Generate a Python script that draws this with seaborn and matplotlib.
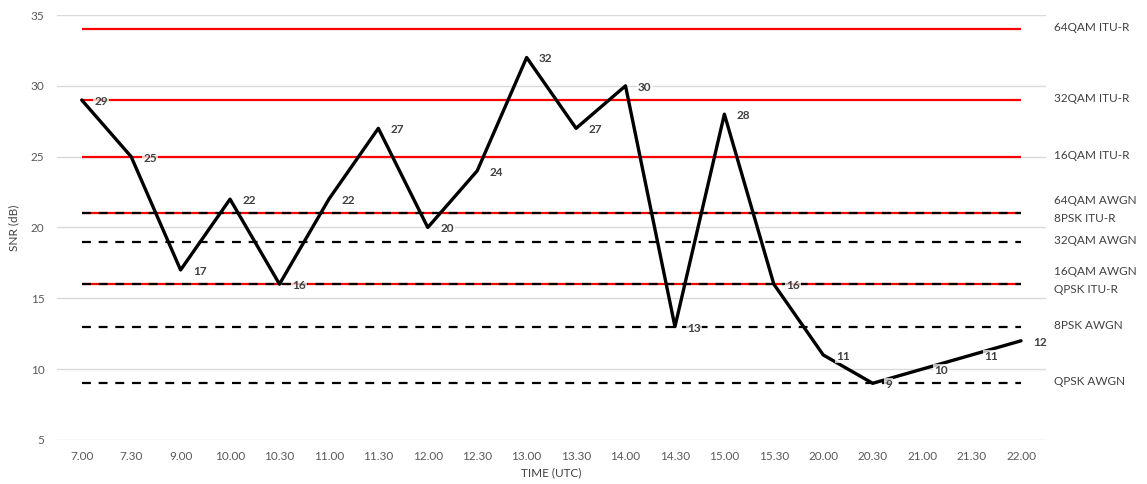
import numpy as np
import pandas as pd
import matplotlib
matplotlib.use("Agg")
import matplotlib.pyplot as plt
import seaborn as sns

# Measurement times and SNR readings
times = ["7.00", "7.30", "9.00", "10.00", "10.30", "11.00", "11.30", "12.00", "12.30",
         "13.00", "13.30", "14.00", "14.30", "15.00", "15.30", "20.00", "20.30",
         "21.00", "21.30", "22.00"]
snr = [29, 25, 17, 22, 16, 22, 27, 20, 24, 32, 27, 30, 13, 28, 16, 11, 9, 10, 11, 12]

# Modulation thresholds (dB)
itu_names = ["64QAM ITU-R", "32QAM ITU-R", "16QAM ITU-R", "8PSK ITU-R", "QPSK ITU-R"]
itu_levels = [34, 29, 25, 21, 16]
awgn_names = ["64QAM AWGN", "32QAM AWGN", "16QAM AWGN", "8PSK AWGN", "QPSK AWGN"]
awgn_levels = [21, 19, 16, 13, 9]

sns.set_theme(style="white")
plt.rcParams["font.family"] = ["Lato", "DejaVu Sans"]

fig = plt.figure(figsize=(11.47, 4.84), dpi=100)
ax = fig.add_axes([0.0497, 0.091, 0.862, 0.878])

n = len(times)
pos = np.arange(n)
df = pd.DataFrame({"pos": pos, "snr": snr})

# Gridlines
for y in range(5, 36, 5):
    ax.axhline(y, color="#d9d9d9", lw=1.0, zorder=0)

# Threshold lines
for lvl in itu_levels:
    ax.hlines(lvl, 0, n - 1, color="#ff0000", lw=1.6, zorder=1)
for lvl in awgn_levels:
    ax.hlines(lvl, 0, n - 1, color="black", lw=1.6, linestyles=(0, (4, 3.5)), zorder=2)

# SNR series
sns.lineplot(data=df, x="pos", y="snr", ax=ax, color="black", lw=2.4, zorder=3,
             sort=False)

# Value labels
for x, v in zip(pos, snr):
    ax.annotate(str(v), (x, v), xytext=(9, -1), textcoords="offset points",
                ha="left", va="center", fontsize=8.5, fontweight="bold", color="#404040",
                zorder=4,
                bbox=dict(boxstyle="square,pad=0.1", fc="white", ec="none", alpha=0.75))

# Threshold names on the right
right_labels = {}
for name, lvl in zip(itu_names + awgn_names, itu_levels + awgn_levels):
    right_labels.setdefault(lvl, []).append(name)
for lvl, names in right_labels.items():
    if len(names) == 1:
        offsets = [0]
    else:
        names = sorted(names, key=lambda s: "AWGN" not in s)
        offsets = [8, -5]
    for name, off in zip(names, offsets):
        ax.annotate(name, (n - 1, lvl), xytext=(24, off + 1), textcoords="offset points",
                    ha="left", va="center", fontsize=8.5, color="#404040",
                    annotation_clip=False)

ax.set_xlim(-0.5, n - 0.5)
ax.set_ylim(5, 35)
ax.set_yticks(range(5, 36, 5))
ax.set_xticks(pos)
ax.set_xticklabels(times)
ax.tick_params(axis="both", length=0, labelsize=8.5, labelcolor="#595959", pad=8)
ax.tick_params(axis="y", pad=9)
ax.set_xlabel("TIME (UTC)", fontsize=8.5, color="#404040", labelpad=4)
ax.set_ylabel("SNR (dB)", fontsize=8.5, color="#404040", labelpad=8)
for s in ax.spines.values():
    s.set_visible(False)
ax.grid(False)

fig.savefig("out.png", dpi=100, facecolor="white")
